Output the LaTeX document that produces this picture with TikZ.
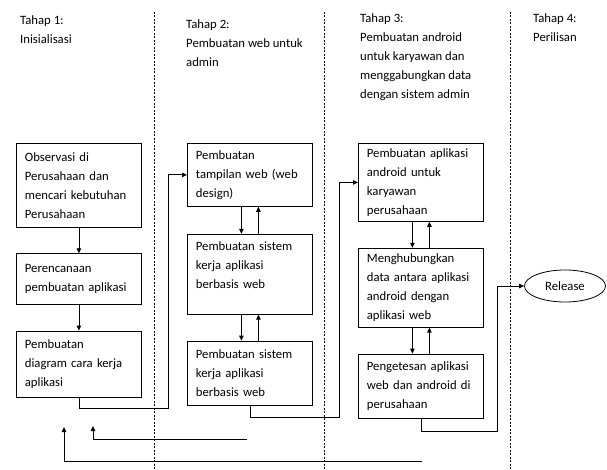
\documentclass[tikz,border=0pt]{standalone}
\usepackage{fontspec}
\setmainfont{Carlito}
\usetikzlibrary{arrows.meta,positioning,shapes.geometric}

\begin{document}
\begin{tikzpicture}[
  x=1pt, y=-1pt,
  font=\fontsize{12.7}{19}\selectfont,
  node distance=25.5pt,
  box/.style={draw, line width=0.8pt, align=left, inner xsep=8.5pt, inner ysep=4pt,
              text width=108pt, minimum width=125pt},
  head/.style={align=left, inner sep=0pt, anchor=north west},
  arr/.style={-{Triangle[length=5pt, width=4.5pt]}, line width=0.8pt},
  phase/.style={line width=0.7pt, dash pattern=on 2pt off 1.5pt}
]
\useasboundingbox (0,0) rectangle (607,470);
% batas tahap
\foreach \xb in {154, 324, 510} {
  \draw[phase] (\xb,12) -- (\xb,470);
}
% judul tahap
\node[head] (h1) at (20,15) {Tahap 1:\\Inisialisasi};
\node[head] (h2) at (186,19) {Tahap 2:\\Pembuatan web untuk\\admin};
\node[head] (h3) at (360,13) {Tahap 3:\\Pembuatan android\\untuk karyawan dan\\menggabungkan data\\dengan sistem admin};
\node[head] (h4) at (533,13) {Tahap 4:\\Perilisan};
% tahap 1
\node[box, anchor=north west, minimum height=84pt] (obs) at (16,143)
  {Observasi di\\Perusahaan dan\\mencari kebutuhan\\Perusahaan};
\node[box, minimum height=51pt, below=of obs] (renc) {Perencanaan\\pembuatan aplikasi};
\node[box, minimum height=66pt, below=of renc] (diag) {Pembuatan\\diagram cara kerja\\aplikasi};
% tahap 2
\node[box, anchor=north west, minimum height=63pt] (tamp) at (187,143)
  {Pembuatan\\tampilan web (web\\design)};
\node[box, minimum height=80pt, below=27pt of tamp] (sisa) {Pembuatan sistem\\kerja aplikasi\\berbasis web\\\mbox{}};
\node[box, minimum height=64pt, below=26pt of sisa] (sisb) {Pembuatan sistem\\kerja aplikasi\\berbasis web};
% tahap 3
\node[box, anchor=north west, minimum height=78pt] (andr) at (358,143)
  {Pembuatan aplikasi\\android untuk\\karyawan\\perusahaan};
\node[box, minimum height=79pt, below=26pt of andr] (hub)
  {Menghubungkan\\data antara aplikasi\\android dengan\\aplikasi web};
\node[box, minimum height=64pt, below=26pt of hub] (tes)
  {Pengetesan aplikasi\\\mbox{web dan android di}\\perusahaan};
% tahap 4
\node[draw, ellipse, line width=0.8pt, minimum width=81pt, minimum height=32pt] (rel) at (565,286) {Release};

% panah dalam tahap
\draw[arr] (obs) -- (renc);
\draw[arr] (renc) -- (diag);
\foreach \p/\q in {tamp/sisa, sisa/sisb, andr/hub, hub/tes} {
  \draw[arr] ([xshift=-8.5pt]\p.south) -- ([xshift=-8.5pt]\q.north);
  \draw[arr] ([xshift=8.5pt]\q.north) -- ([xshift=8.5pt]\p.south);
}
% antar tahap
\coordinate (k1) at (168,408);
\coordinate (k2) at (339,417);
\coordinate (k3) at (497,431);
\draw[arr] (diag.south) |- (k1) |- (tamp.west);
\draw[arr] (sisb.south) |- (k2) |- (andr.west);
\draw[arr] (tes.south) |- (k3) |- (rel.west);
% balik
\coordinate (b1s) at (247,439);
\coordinate (b1e) at (93,426);
\coordinate (b2s) at (422,461);
\coordinate (b2e) at (64,427);
\draw[arr] (b1s) -| (b1e);
\draw[arr] (b2s) -| (b2e);
\end{tikzpicture}
\end{document}
